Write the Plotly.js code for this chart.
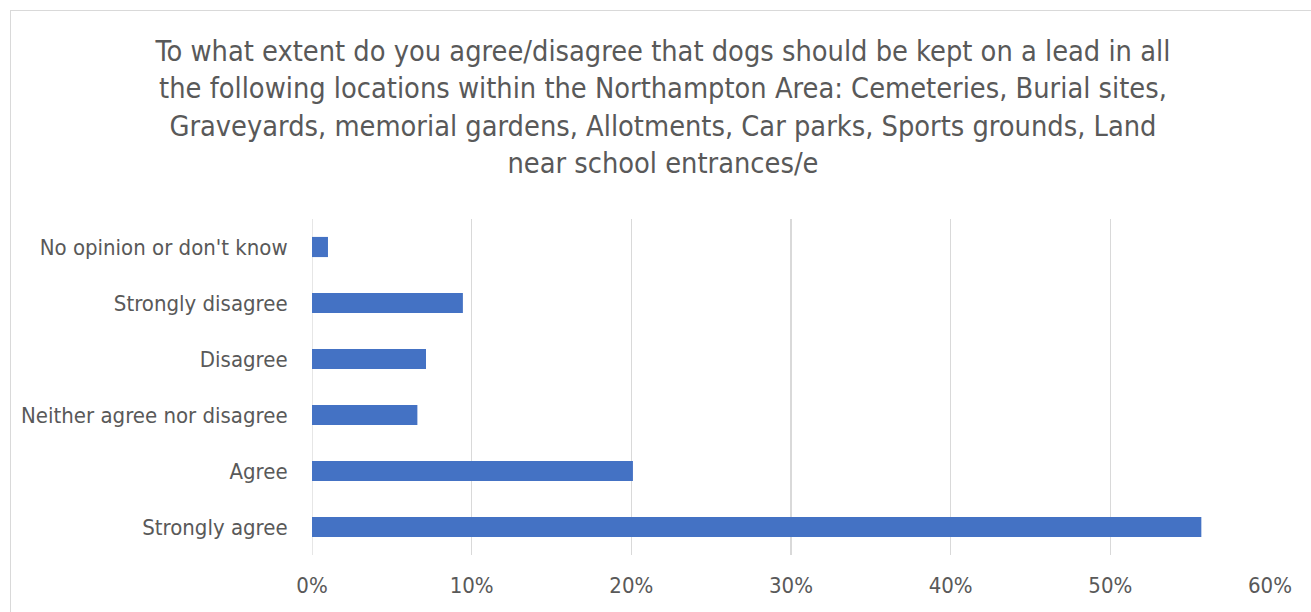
<!DOCTYPE html>
<html>
<head>
<meta charset="utf-8">
<script src="https://cdn.plot.ly/plotly-3.0.1.min.js"></script>
<style>
  html, body { margin: 0; padding: 0; background: #fff; overflow: hidden; }
  #frame { position: absolute; left: 10px; top: 10px; width: 1400px; height: 700px;
           border-left: 1px solid #d9d9d9; border-top: 1px solid #d9d9d9; pointer-events: none; }
  #chart { position: absolute; left: 0; top: 0; width: 1311px; height: 612px; }
</style>
</head>
<body>
<div id="chart"></div>
<div id="frame"></div>
<script>
const categories = [
  "No opinion or don't know",
  "Strongly disagree",
  "Disagree",
  "Neither agree nor disagree",
  "Agree",
  "Strongly agree"
];
const shares = [0.010, 0.0945, 0.0714, 0.066, 0.201, 0.557];
const xTickValues = [0, 0.1, 0.2, 0.3, 0.4, 0.5, 0.6];
const xTickLabels = ["0%", "10%", "20%", "30%", "40%", "50%", "60%"];
const titleText = "To what extent do you agree/disagree that dogs should be kept on a lead in all<br>" +
  "the following locations within the Northampton Area: Cemeteries, Burial sites,<br>" +
  "Graveyards, memorial gardens, Allotments, Car parks, Sports grounds, Land<br>" +
  "near school entrances/e";

const fontFam = "'DejaVu Sans Condensed', 'Liberation Sans', sans-serif";

const data = [{
  type: 'bar',
  orientation: 'h',
  x: shares,
  y: categories,
  marker: { color: '#4472C4' },
  hoverinfo: 'x+y'
}];

const layout = {
  width: 1311,
  height: 612,
  margin: { l: 312, r: 41, t: 219, b: 57 },
  paper_bgcolor: 'rgba(0,0,0,0)',
  plot_bgcolor: 'rgba(0,0,0,0)',
  bargap: 0.64,
  showlegend: false,
  font: { family: fontFam, color: '#595959' },
  title: {
    text: titleText,
    font: { family: fontFam, size: 28.7, color: '#595959' },
    x: 0.5057, xref: 'container', xanchor: 'center',
    y: 1 - 61 / 612, yref: 'container', yanchor: 'top'
  },
  xaxis: {
    range: [0, 0.6],
    tickvals: xTickValues,
    ticktext: xTickLabels,
    showgrid: true,
    gridcolor: '#d9d9d9',
    gridwidth: 1.3,
    zeroline: false,
    showline: false,
    ticks: 'outside',
    ticklen: 11,
    tickcolor: 'rgba(0,0,0,0)',
    tickfont: { family: fontFam, size: 22, color: '#595959' },
    fixedrange: true
  },
  yaxis: {
    autorange: 'reversed',
    showgrid: false,
    zeroline: false,
    showline: false,
    ticks: 'outside',
    ticklen: 19,
    tickcolor: 'rgba(0,0,0,0)',
    tickfont: { family: fontFam, size: 22, color: '#595959' },
    fixedrange: true
  },
  shapes: [{
    type: 'line', xref: 'x', yref: 'paper', x0: 0, x1: 0, y0: 0, y1: 1,
    line: { color: '#d9d9d9', width: 1.3 }, layer: 'below'
  }]
};

Plotly.newPlot('chart', data, layout, { displayModeBar: false, staticPlot: true });
</script>
</body>
</html>
